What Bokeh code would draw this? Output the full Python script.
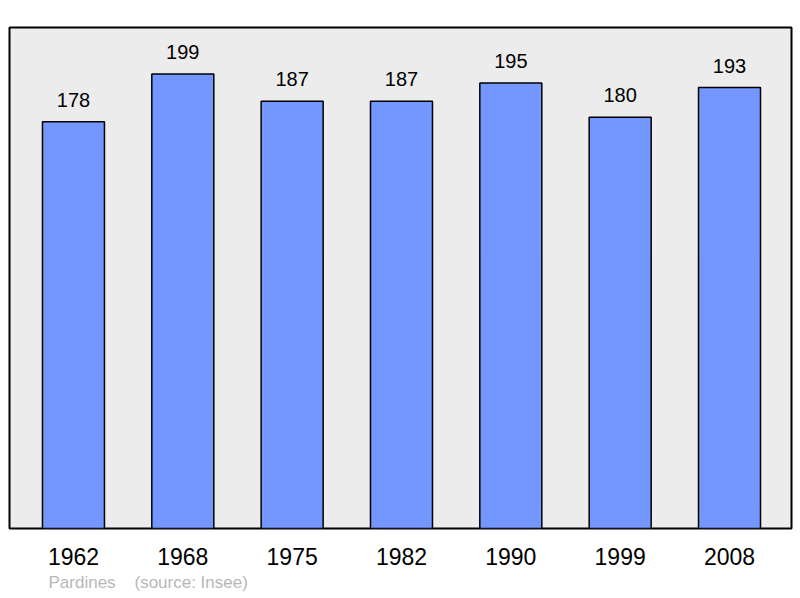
from bokeh.plotting import figure
from bokeh.models import ColumnDataSource, Range1d, FixedTicker, Title
from bokeh.core.properties import value
from bokeh.embed import file_html
from bokeh.resources import INLINE

# population of Pardines (source: Insee)
years = ["1962", "1968", "1975", "1982", "1990", "1999", "2008"]
population = [178, 199, 187, 187, 195, 180, 193]
town = "Pardines"
source_note = "(source: Insee)"

pos = list(range(len(years)))
src = ColumnDataSource(dict(x=pos, top=population, lbl=[str(v) for v in population]))

p = figure(width=800, height=598, output_backend="svg", toolbar_location=None,
           x_range=Range1d(-0.585, 6.567), y_range=Range1d(0, 219.3),
           min_border_left=9, min_border_right=9, min_border_top=27, min_border_bottom=70)

p.background_fill_color = "#ececec"
p.border_fill_color = "white"
p.outline_line_color = "black"
p.outline_line_width = 2
p.xgrid.visible = False
p.ygrid.visible = False
p.yaxis.visible = False

p.vbar(x="x", top="top", bottom=0, width=0.567, source=src,
       fill_color="#7396ff", line_color="black", line_width=1.5)

p.text(x="x", y="top", text="lbl", source=src, text_align="center",
       text_baseline="alphabetic", y_offset=-22, text_font_size="20px",
       text_font=value("Liberation Sans"), text_color="black")

xa = p.xaxis[0]
xa.ticker = FixedTicker(ticks=pos)
xa.major_label_overrides = {i: y for i, y in zip(pos, years)}
xa.axis_line_color = None
xa.major_tick_line_color = None
xa.minor_tick_line_color = None
xa.major_label_standoff = 13
xa.major_label_text_font = "Liberation Sans"
xa.major_label_text_font_size = "23px"
xa.major_label_text_color = "black"

# footer line under the year labels
footer = Title(text=town + "\u00a0" * 4 + source_note, align="left", offset=39,
               standoff=7, text_font="Liberation Sans", text_font_size="17px",
               text_font_style="normal", text_color="#b8b8b8")
p.add_layout(footer, "below")

open("out.html", "w").write(file_html(p, INLINE))
